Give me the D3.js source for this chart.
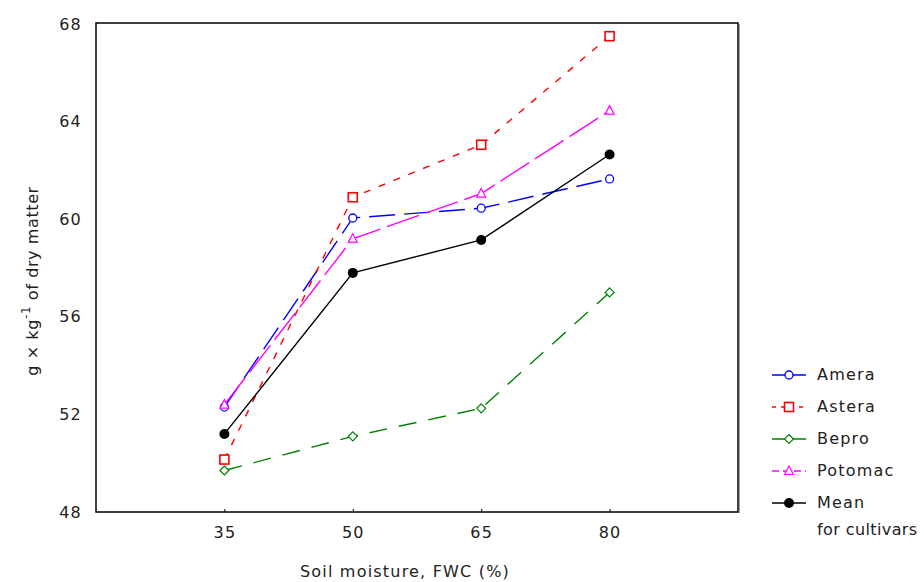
<!DOCTYPE html>
<html><head><meta charset="utf-8">
<script src="https://cdn.jsdelivr.net/npm/d3@7"></script>
<style>body{margin:0;background:#fff}text{font-family:"DejaVu Sans",Verdana,sans-serif}</style>
</head><body><svg id="c" width="924" height="582"></svg>
<script>
const moisture = [35, 50, 65, 80];
const yTicks = [48, 52, 56, 60, 64, 68];
const amera = [52.3, 60.05, 60.45, 61.65];
const astera = [50.15, 60.9, 63.05, 67.5];
const bepro = [49.7, 51.1, 52.25, 57.0];
const potomac = [52.4, 59.2, 61.05, 64.45];
const meanCult = [51.2, 57.8, 59.15, 62.65];

const series = [
  {name:"Amera", vals:amera, color:"#0000ff", dash:"26,9", marker:"circle"},
  {name:"Astera", vals:astera, color:"#ff0000", dash:"7,9", marker:"square"},
  {name:"Bepro", vals:bepro, color:"#008000", dash:"18,12", marker:"diamond"},
  {name:"Potomac", vals:potomac, color:"#ff00ff", dash:"34,7", marker:"triangle"},
  {name:"Mean", vals:meanCult, color:"#000000", dash:null, marker:"dot"}
];

const svg = d3.select("#c");
const L=96, R=738, T=24, B=512;
const x = d3.scaleLinear().domain([20,95]).range([L,R]);
const y = d3.scaleLinear().domain([48,68]).range([B,T]);

svg.append("rect").attr("x",L).attr("y",T-1).attr("width",R-L).attr("height",B-T+1)
  .attr("fill","none").attr("stroke","#000").attr("stroke-width",1.5);
svg.append("line").attr("x1",R+1).attr("x2",R+1).attr("y1",T).attr("y2",B+1).attr("stroke","#444").attr("stroke-width",1);

const xa = svg.append("g").attr("transform",`translate(0,${B})`)
  .call(d3.axisBottom(x).tickValues(moisture).tickSize(-3).tickPadding(15).tickFormat(d3.format("d")));
xa.select(".domain").remove();
xa.selectAll("text").attr("font-size",16).attr("letter-spacing",1.2).attr("fill","#222");
xa.selectAll("line").attr("stroke","#000");

const ya = svg.append("g").attr("transform",`translate(${L},0)`)
  .call(d3.axisLeft(y).tickValues(yTicks).tickSize(0).tickPadding(14).tickFormat(d3.format("d")));
ya.select(".domain").remove();
ya.selectAll("text").attr("font-size",16).attr("letter-spacing",1.2).attr("fill","#222");

svg.append("text").attr("x",405).attr("y",577).attr("text-anchor","middle").attr("font-size",16).attr("fill","#222")
  .attr("letter-spacing",1.2).text("Soil moisture, FWC (%)");
const yl = svg.append("text").attr("transform","translate(38,281) rotate(-90)").attr("text-anchor","middle")
  .attr("font-size",16).attr("letter-spacing",0.6).attr("fill","#222");
yl.append("tspan").text("g × kg");
yl.append("tspan").attr("dy",-8).attr("font-size",12).text("-1");
yl.append("tspan").attr("dy",8).text(" of dry matter");

function drawMarker(g, type, cx, cy, color){
  if(type==="circle") g.append("circle").attr("cx",cx).attr("cy",cy).attr("r",4).attr("fill","#fff").attr("stroke",color).attr("stroke-width",1.3);
  else if(type==="square") g.append("rect").attr("x",cx-4.5).attr("y",cy-4.5).attr("width",9).attr("height",9).attr("fill","#fff").attr("stroke",color).attr("stroke-width",1.6);
  else if(type==="diamond") g.append("path").attr("d",`M${cx},${cy-4.5}L${cx+4.5},${cy}L${cx},${cy+4.5}L${cx-4.5},${cy}Z`).attr("fill","#fff").attr("stroke",color).attr("stroke-width",1.2);
  else if(type==="triangle") g.append("path").attr("d",`M${cx},${cy-5}L${cx+4.5},${cy+3.5}L${cx-4.5},${cy+3.5}Z`).attr("fill","#fff").attr("stroke",color).attr("stroke-width",1.2);
  else g.append("circle").attr("cx",cx).attr("cy",cy).attr("r",5).attr("fill",color);
}

const line = d3.line().x((d,i)=>x(moisture[i])).y(d=>y(d));
series.forEach(s=>{
  const g = svg.append("g");
  g.append("path").attr("d",line(s.vals)).attr("fill","none").attr("stroke",s.color).attr("stroke-width",1.4)
    .attr("stroke-dasharray",s.dash);
  s.vals.forEach((v,i)=>drawMarker(g,s.marker,x(moisture[i]),y(v),s.color));
});

const ly0=375, ldy=32;
series.forEach((s,i)=>{
  const g = svg.append("g");
  const yy = ly0+i*ldy;
  g.append("line").attr("x1",772).attr("x2",806).attr("y1",yy).attr("y2",yy).attr("stroke",s.color).attr("stroke-width",1.6)
    .attr("stroke-dasharray", s.name==="Astera"?"4,5": (s.name==="Potomac"?"7,4":null));
  drawMarker(g,s.marker,789,yy,s.color);
  g.append("text").attr("x",817).attr("y",yy+5).attr("font-size",16).attr("letter-spacing",1.2).attr("fill","#222").text(s.name);
});
svg.append("text").attr("x",817).attr("y",ly0+4*ldy+32).attr("font-size",16).attr("letter-spacing",0.4).attr("fill","#222").text("for cultivars");
</script></body></html>
